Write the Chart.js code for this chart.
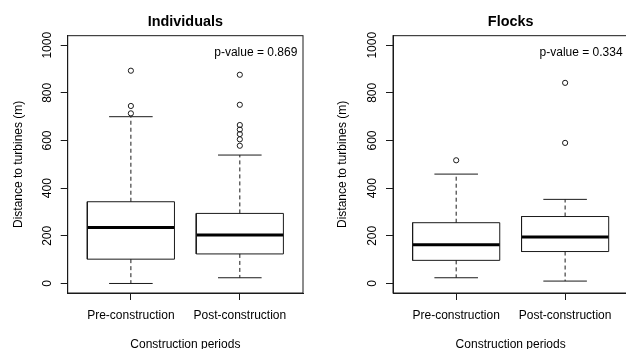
<!DOCTYPE html>
<html>
<head>
<meta charset="utf-8">
<title>Distance to turbines</title>
<script src="https://cdn.jsdelivr.net/npm/chart.js@4/dist/chart.umd.min.js"></script>
<style>
  html, body { margin: 0; padding: 0; background: #fff; }
  body { width: 626px; height: 349px; overflow: hidden; position: relative; }
  .panel { position: absolute; top: 0; }
  #leftPanel { left: 0; }
  #rightPanel { left: 313px; }
</style>
</head>
<body>
<div class="panel" id="leftPanel"><canvas id="indivChart" width="313" height="349" style="width:313px;height:349px"></canvas></div>
<div class="panel" id="rightPanel"><canvas id="flockChart" width="330" height="349" style="width:330px;height:349px"></canvas></div>
<script>
// Categories and axis ticks
const periods = ['Pre-construction', 'Post-construction'];
const yTickValues = [0, 200, 400, 600, 800, 1000];

// Individuals: whisker ends, quartiles and medians per period (m)
const indivLower = [0, 24];
const indivQ1 = [102, 124];
const indivMedian = [235, 203];
const indivQ3 = [343, 294];
const indivUpper = [700, 539];
const indivOutPre = [893, 745, 714];
const indivOutPost = [876, 750, 665, 646, 627, 605, 578];
const indivP = 'p-value = 0.869';

// Flocks: whisker ends, quartiles and medians per period (m)
const flockLower = [24, 10];
const flockQ1 = [97, 134];
const flockMedian = [162, 195];
const flockQ3 = [255, 281];
const flockUpper = [459, 353];
const flockOutPre = [517];
const flockOutPost = [842, 590];
const flockP = 'p-value = 0.334';

const FONT = "'Liberation Sans', Arial, sans-serif";
const INK = '#000';
const LINE = '#1a1a1a';
const BOX_HALF = 0.4;   // half box width, in category units
const CAP_HALF = 0.2;   // half whisker-cap width

function lineSet(points, extra) {
  return Object.assign({
    data: points, showLine: true, pointRadius: 0, borderColor: LINE,
    borderWidth: 1, fill: false, tension: 0
  }, extra || {});
}

function boxplotDatasets(lower, q1, med, q3, upper, outliers) {
  const sets = [];
  lower.forEach((_, i) => {
    const x = i + 1;
    sets.push(lineSet([{x, y: q3[i]}, {x, y: upper[i]}], {borderDash: [4, 3]}));
    sets.push(lineSet([{x, y: q1[i]}, {x, y: lower[i]}], {borderDash: [4, 3]}));
    sets.push(lineSet([{x: x - CAP_HALF, y: upper[i]}, {x: x + CAP_HALF, y: upper[i]}]));
    sets.push(lineSet([{x: x - CAP_HALF, y: lower[i]}, {x: x + CAP_HALF, y: lower[i]}]));
    sets.push(lineSet([
      {x: x - BOX_HALF, y: q1[i]}, {x: x + BOX_HALF, y: q1[i]},
      {x: x + BOX_HALF, y: q3[i]}, {x: x - BOX_HALF, y: q3[i]},
      {x: x - BOX_HALF, y: q1[i]}
    ], {borderJoinStyle: 'miter'}));
    sets.push(lineSet([{x: x - BOX_HALF, y: med[i]}, {x: x + BOX_HALF, y: med[i]}],
      {borderWidth: 3, borderCapStyle: 'butt', borderColor: INK}));
    sets.push({
      data: outliers[i].map(v => ({x, y: v})), showLine: false,
      pointStyle: 'circle', pointRadius: 2.6, borderWidth: 1,
      borderColor: LINE, backgroundColor: 'rgba(0,0,0,0)'
    });
  });
  return sets;
}

// Frame around the plotting region plus the p-value note
const frameAndNote = {
  id: 'frameAndNote',
  afterDatasetsDraw(chart, args, opts) {
    const {ctx, chartArea: a} = chart;
    ctx.save();
    ctx.strokeStyle = LINE;
    ctx.lineWidth = 1;
    ctx.strokeRect(a.left, a.top, a.right - a.left, a.bottom - a.top);
    ctx.font = '12px ' + FONT;
    ctx.fillStyle = INK;
    ctx.textAlign = 'right';
    ctx.textBaseline = 'alphabetic';
    ctx.fillText(opts.text, a.right - 5.7, a.top + 20.8);
    ctx.restore();
  }
};

function makeChart(id, title, note, datasets, axisWidth, padRight, yTitlePad) {
  const font12 = {family: FONT, size: 12};
  return new Chart(document.getElementById(id), {
    type: 'scatter',
    data: {datasets},
    plugins: [frameAndNote],
    options: {
      responsive: false, animation: false, events: [],
      layout: {padding: {left: 0, right: padRight, top: 0, bottom: 0}},
      plugins: {
        legend: {display: false},
        tooltip: {enabled: false},
        title: {
          display: true, text: title, fullSize: false, color: INK,
          font: {family: FONT, size: 14.4, weight: 'bold', lineHeight: 1.2},
          padding: {top: 13.1, bottom: 5.3}
        },
        frameAndNote: {text: note}
      },
      scales: {
        x: {
          type: 'linear', min: 0.42, max: 2.58,
          afterBuildTicks: s => { s.ticks = periods.map((_, i) => ({value: i + 1})); },
          afterFit: s => { s.height = 56; },
          ticks: {
            callback: (v, i) => periods[i], color: INK, font: font12,
            padding: 8, maxRotation: 0, minRotation: 0, autoSkip: false
          },
          grid: {display: true, drawOnChartArea: false, drawTicks: true, tickLength: 7, color: LINE},
          border: {display: true, color: LINE},
          title: {display: true, text: 'Construction periods', color: INK, font: font12,
                  padding: {top: 0, bottom: -2.7}}
        },
        y: {
          type: 'linear', min: -40, max: 1040,
          afterBuildTicks: s => { s.ticks = yTickValues.map(v => ({value: v})); },
          afterFit: s => { s.width = axisWidth; },
          ticks: {
            callback: v => String(v), color: INK, font: font12, padding: 0,
            minRotation: 90, maxRotation: 90, crossAlign: 'center'
          },
          grid: {display: true, drawOnChartArea: false, drawTicks: true, tickLength: 7, color: LINE},
          border: {display: true, color: LINE},
          title: {display: true, text: 'Distance to turbines (m)', color: INK, font: font12,
                  padding: {top: yTitlePad, bottom: 0}}
        }
      }
    }
  });
}

makeChart('indivChart', 'Individuals', indivP,
  boxplotDatasets(indivLower, indivQ1, indivMedian, indivQ3, indivUpper, [indivOutPre, indivOutPost]),
  67.7, 10, 11.8);

makeChart('flockChart', 'Flocks', flockP,
  boxplotDatasets(flockLower, flockQ1, flockMedian, flockQ3, flockUpper, [flockOutPre, flockOutPost]),
  80, 14.7, 22.8);
</script>
</body>
</html>
